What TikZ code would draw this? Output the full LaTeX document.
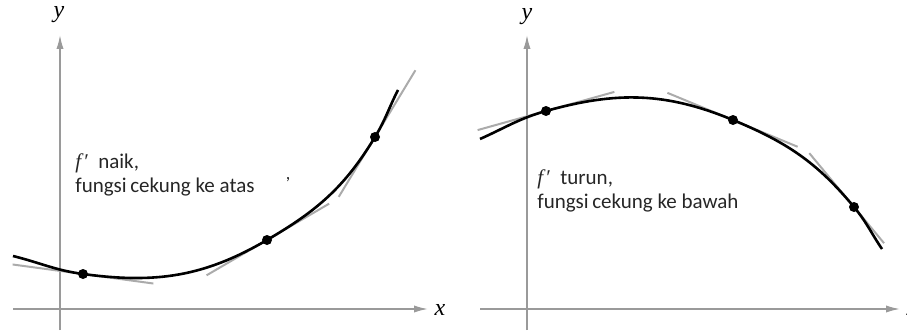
\documentclass[tikz,border=0pt]{standalone}
\usepackage{fontspec}
\setmainfont{Carlito}
\newfontfamily\serifhuruf{Liberation Serif}
\usetikzlibrary{arrows.meta}
\definecolor{figA}{HTML}{9A9A9A}
\definecolor{figB}{HTML}{ABABAB}
\definecolor{figC}{HTML}{262626}
\newcommand{\fturunan}{{\serifhuruf\itshape f\kern1pt\char"2032}}
\tikzset{
  sumbu/.style={figA,line width=0.75pt,->},
  kurva/.style={line width=1.3pt},
  singgung/.style={figB,line width=1pt},
  ket/.style={align=left,anchor=north west,inner sep=0pt,text=figC,
    font=\fontsize{10.5}{12}\selectfont},
  huruf/.style={font=\serifhuruf\itshape\fontsize{12}{12}\selectfont},
}

\begin{document}
\begin{tikzpicture}[x=0.5pt,y=0.5pt,>={Latex[length=7pt,width=3.6pt]}]
\useasboundingbox (0,0) rectangle (907,333);
% Grafik kiri: cekung ke atas
\draw[sumbu] (60,3) -- (60,298);
\draw[sumbu] (13,24) -- (428,24);
\node[huruf] (yki) at (59,318) {y};
\node[huruf] (xki) at (440,23) {x};
\coordinate (p1) at (83,59);
\coordinate (p2) at (267,93);
\coordinate (p3) at (375,196);
\draw[singgung] (p1) +(172.3:71) -- +(-7.7:71);
\draw[singgung] (p2) +(210.3:70) -- +(30.3:72);
\draw[singgung] (p3) +(238.8:70) -- +(58.8:78);
\draw[kurva] (13,77) to[out=-14,in=172.3] (p1) to[out=-7.7,in=210.3] (p2)
  to[out=30.3,in=238.8] (p3) to[out=58.8,in=243] (398,243);
\foreach \p in {p1,p2,p3} \fill (\p) circle (2.5pt);
\node[ket] (tki) at (75,180) {\fturunan\enspace naik,\\fungsi\,cekung ke atas};
\node[text=figC,font=\fontsize{9}{10}\selectfont] (koma) at (288,153) {,};
% Grafik kanan: cekung ke bawah
\draw[sumbu] (527,3) -- (527,298);
\draw[sumbu] (480,24) -- (900,24);
\node[huruf] (yka) at (527,316) {y};
\node[huruf] (xka) at (912,23) {x};
\coordinate (q1) at (546,222);
\coordinate (q2) at (733,213);
\coordinate (q3) at (854,126);
\draw[singgung] (q1) +(195.6:71) -- +(15.6:71);
\draw[singgung] (q2) +(157.5:71) -- +(-22.5:70);
\draw[singgung] (q3) +(129.7:70) -- +(-50.3:47);
\draw[kurva] (480,194) to[out=24,in=195.6] (q1) to[out=15.6,in=157.5] (q2)
  to[out=-22.5,in=129.7] (q3) to[out=-50.3,in=124] (882,84);
\foreach \p in {q1,q2,q3} \fill (\p) circle (2.5pt);
\node[ket] (tka) at (537,164) {\fturunan\enspace turun,\\fungsi\,cekung ke bawah};
\end{tikzpicture}
\end{document}
